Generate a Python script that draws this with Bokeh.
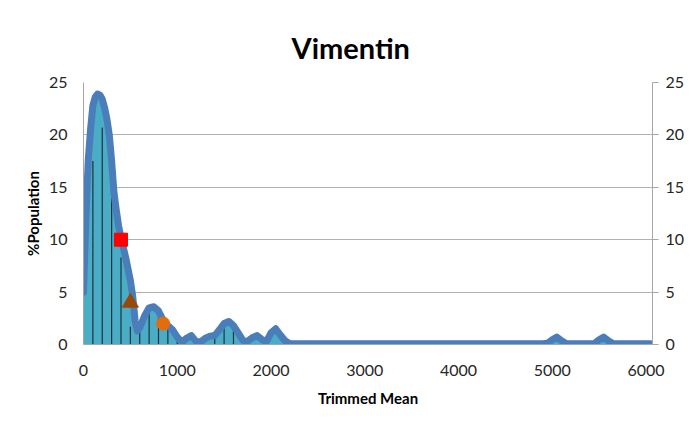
from bokeh.plotting import figure
from bokeh.models import LinearAxis, Range1d, FixedTicker, ColumnDataSource
from bokeh.embed import file_html
from bokeh.resources import INLINE

title_text = "Vimentin"
x_label = "Trimmed Mean"
y_label = "%Population"

# smoothed distribution curve
curve_x = [0, 25, 50, 75, 100, 125, 150, 175, 200, 225, 250, 275, 300, 325, 350, 375,
           400, 450, 500, 525, 550, 575, 600, 650, 700, 750, 800, 850, 900, 950,
           1000, 1050, 1100, 1150, 1200, 1250, 1300, 1350, 1400, 1450, 1500, 1550,
           1600, 1650, 1700, 1750, 1800, 1850, 1900, 1950, 2000, 2050, 2100, 2150,
           2200, 2300, 4900, 4950, 5000, 5050, 5100, 5150, 5200, 5450, 5500, 5550,
           5600, 5650, 5700, 6050]
curve_y = [5.0, 12.0, 17.5, 20.5, 22.8, 23.6, 23.9, 23.8, 23.4, 22.6, 21.5, 20.0,
           17.5, 14.5, 12.8, 11.3, 10.2, 8.3, 6.1, 4.6, 2.3, 1.3, 1.6, 2.7, 3.5,
           3.6, 3.2, 2.3, 1.8, 1.4, 0.7, 0.2, 0.6, 0.85, 0.3, 0.25, 0.6, 0.8, 0.85,
           1.4, 2.0, 2.2, 1.8, 1.1, 0.4, 0.3, 0.65, 0.85, 0.5, 0.25, 1.1, 1.5, 0.9,
           0.35, 0.1, 0.08, 0.08, 0.12, 0.45, 0.7, 0.35, 0.1, 0.08, 0.1, 0.45,
           0.7, 0.35, 0.1, 0.08, 0.08]

# drop lines (histogram bins)
drop_x = [100, 200, 300, 400, 500, 600, 700, 800, 900, 1000, 1400, 1500, 1600]
drop_y = [17.5, 20.7, 14.0, 8.3, 1.7, 1.5, 3.4, 3.0, 1.6, 0.6, 0.8, 1.8, 1.6]

# highlighted points
sq_x, sq_y = [400], [10]
tri_x, tri_y = [500], [4]
circ_x, circ_y = [850], [2]

x_ticks = [0, 1000, 2000, 3000, 4000, 5000, 6000]
y_ticks = [0, 5, 10, 15, 20, 25]

FONT = "Lato"
GRID = "#B3B3B3"
AXIS = "#A6A6A6"
TXT = "#262626"

p = figure(frame_width=569, frame_height=262,
           min_border_left=83, min_border_right=32,
           min_border_top=82, min_border_bottom=73,
           x_range=Range1d(0, 6070), y_range=Range1d(0, 25),
           output_backend="svg", toolbar_location=None,
           y_axis_location=None, x_axis_location=None)
p.outline_line_color = None
p.background_fill_color = "white"
p.border_fill_color = "white"

p.title.text = title_text
p.title.align = "left"
p.title.offset = 208
p.title.text_font = FONT
p.title.text_font_style = "bold"
p.title.text_font_size = "29px"
p.title.text_color = "black"
p.title.standoff = 36

def style_axis(ax, ticks):
    ax.ticker = FixedTicker(ticks=ticks)
    ax.axis_line_color = AXIS
    ax.major_tick_line_color = AXIS
    ax.minor_tick_line_color = None
    ax.major_tick_in = 0
    ax.major_label_text_font = FONT
    ax.major_label_text_font_size = "16px"
    ax.major_label_text_color = TXT
    ax.axis_label_text_font = FONT
    ax.axis_label_text_font_style = "bold"
    ax.axis_label_text_font_size = "15px"
    ax.axis_label_text_color = "black"

xax = LinearAxis()
style_axis(xax, x_ticks)
xax.major_tick_out = 0
xax.major_label_standoff = 20
xax.axis_label = x_label
xax.axis_label_standoff = 10
p.add_layout(xax, "below")

yax = LinearAxis()
style_axis(yax, y_ticks)
yax.major_tick_out = 0
yax.major_label_standoff = 16
yax.axis_label = y_label
yax.axis_label_standoff = 4
p.add_layout(yax, "left")

rax = LinearAxis()
style_axis(rax, y_ticks)
rax.major_tick_out = 6
rax.major_label_standoff = 7
p.add_layout(rax, "right")

p.xgrid.visible = False
p.ygrid.grid_line_color = GRID
p.ygrid.ticker = FixedTicker(ticks=[5, 10, 15, 20, 25])

src = ColumnDataSource(dict(x=curve_x, y=curve_y, z=[0] * len(curve_x)))
p.varea(x="x", y1="z", y2="y", source=src, fill_color="#4BACC6")

dsrc = ColumnDataSource(dict(x=drop_x, y=drop_y, z=[0] * len(drop_x)))
p.segment(x0="x", y0="z", x1="x", y1="y", source=dsrc,
          line_color="#1B3440", line_width=1.2)

p.line(x="x", y="y", source=src, line_color="#4A7EBB", line_width=7,
       line_join="round", line_cap="round")

p.scatter(sq_x, sq_y, marker="square", size=13, fill_color="#FF0000", line_color="#FF0000")
p.scatter(tri_x, tri_y, marker="triangle", size=16, fill_color="#984807", line_color="#984807")
p.scatter(circ_x, circ_y, marker="circle", size=13, fill_color="#E46C0A", line_color="#E46C0A")

open("out.html", "w").write(file_html(p, INLINE))
